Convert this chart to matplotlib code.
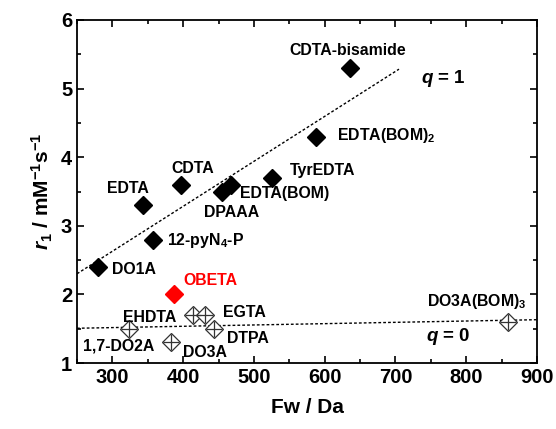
import matplotlib
matplotlib.use('Agg')
import matplotlib.pyplot as plt
import numpy as np

plt.rcParams['font.family'] = ['Liberation Sans', 'DejaVu Sans']
plt.rcParams['font.weight'] = 'bold'
plt.rcParams['mathtext.fontset'] = 'custom'
plt.rcParams['mathtext.rm'] = 'Liberation Sans:bold'
plt.rcParams['mathtext.it'] = 'Liberation Sans:bold:italic'
plt.rcParams['mathtext.bf'] = 'Liberation Sans:bold'

# q = 1 complexes
q1_names = ['DO1A', '12-pyN$_4$-P', 'EDTA', 'CDTA', 'DPAAA', 'EDTA(BOM)',
            'TyrEDTA', 'EDTA(BOM)$_2$', 'CDTA-bisamide']
q1_fw = [280, 357, 343, 397, 455, 468, 525, 588, 636]
q1_r1 = [2.4, 2.8, 3.3, 3.6, 3.5, 3.6, 3.7, 4.3, 5.3]

# q = 0 complexes
q0_names = ['1,7-DO2A', 'DO3A', 'EHDTA', 'EGTA', 'DTPA', 'DO3A(BOM)$_3$']
q0_fw = [323, 383, 414, 431, 444, 859]
q0_r1 = [1.5, 1.3, 1.7, 1.7, 1.5, 1.6]

# this work
ob_name = 'OBETA'
ob_fw = [387]
ob_r1 = [2.0]

# label positions (data coords) and alignment
q1_lab = [(299, 2.36, 'left'), (377, 2.79, 'left'), (322, 3.55, 'center'),
          (414, 3.84, 'center'), (429, 3.19, 'left'), (480, 3.47, 'left'),
          (551, 3.81, 'left'), (617, 4.32, 'left'), (633, 5.56, 'center')]
q0_lab = [(258, 1.25, 'left'), (400, 1.16, 'left'), (315, 1.67, 'left'),
          (456, 1.73, 'left'), (462, 1.36, 'left'), (815, 1.89, 'center')]

fig = plt.figure(figsize=(5.56, 4.29), dpi=100)
ax = fig.add_axes([0.1385, 0.1538, 0.8273, 0.7996])

# linear fits
x1 = np.array([250, 705])
p1 = np.polyfit(q1_fw, q1_r1, 1)
ax.plot(x1, np.polyval(p1, x1), ls=(0, (2, 1.5)), color='k', lw=1)
x0 = np.array([250, 900])
p0 = np.polyfit(q0_fw, q0_r1, 1)
ax.plot(x0, np.polyval(p0, x0), ls=(0, (2, 1.5)), color='k', lw=1)

ax.plot(q1_fw, q1_r1, 'D', color='k', ms=9, ls='none', zorder=3)
ax.plot(q0_fw, q0_r1, 'D', mfc='white', mec='#333333', mew=0.9, ms=9, ls='none', zorder=3)
ax.plot(q0_fw, q0_r1, '+', color='#333333', mew=0.9, ms=11, ls='none', zorder=4)
ax.plot(ob_fw, ob_r1, 'D', color='#ff0000', ms=9, ls='none', zorder=3)

for name, (tx, ty, ha) in zip(q1_names, q1_lab):
    ax.text(tx, ty, name, fontsize=11.4, fontweight='bold', ha=ha, va='center')
for name, (tx, ty, ha) in zip(q0_names, q0_lab):
    ax.text(tx, ty, name, fontsize=11.4, fontweight='bold', ha=ha, va='center')
ax.text(400, 2.21, ob_name, fontsize=11.4, fontweight='bold', color='#ff0000', va='center')
ax.text(736, 5.15, '$q$ = 1', fontsize=13.5, fontweight='bold', va='center')
ax.text(743, 1.38, '$q$ = 0', fontsize=13.5, fontweight='bold', va='center')

ax.set_xlim(250, 900)
ax.set_ylim(1, 6)
ax.set_xticks([300, 400, 500, 600, 700, 800, 900])
ax.set_xticks(np.arange(250, 901, 50), minor=True)
ax.set_yticks([1, 2, 3, 4, 5, 6])
ax.set_yticks(np.arange(1, 6.01, 0.5), minor=True)
ax.tick_params(which='both', direction='in', top=True, right=True, width=1.2)
ax.tick_params(which='major', length=5, labelsize=14.5)
ax.tick_params(which='minor', length=3)
for lab in ax.get_xticklabels() + ax.get_yticklabels():
    lab.set_fontweight('bold')
for sp in ax.spines.values():
    sp.set_linewidth(1.3)

ax.set_xlabel('Fw / Da', fontsize=15, fontweight='bold', labelpad=8)
ax.set_ylabel('$r_{1}$ / mM$^{-1}$s$^{-1}$', fontsize=15, fontweight='bold', labelpad=4)

fig.savefig('out.png', dpi=100)
